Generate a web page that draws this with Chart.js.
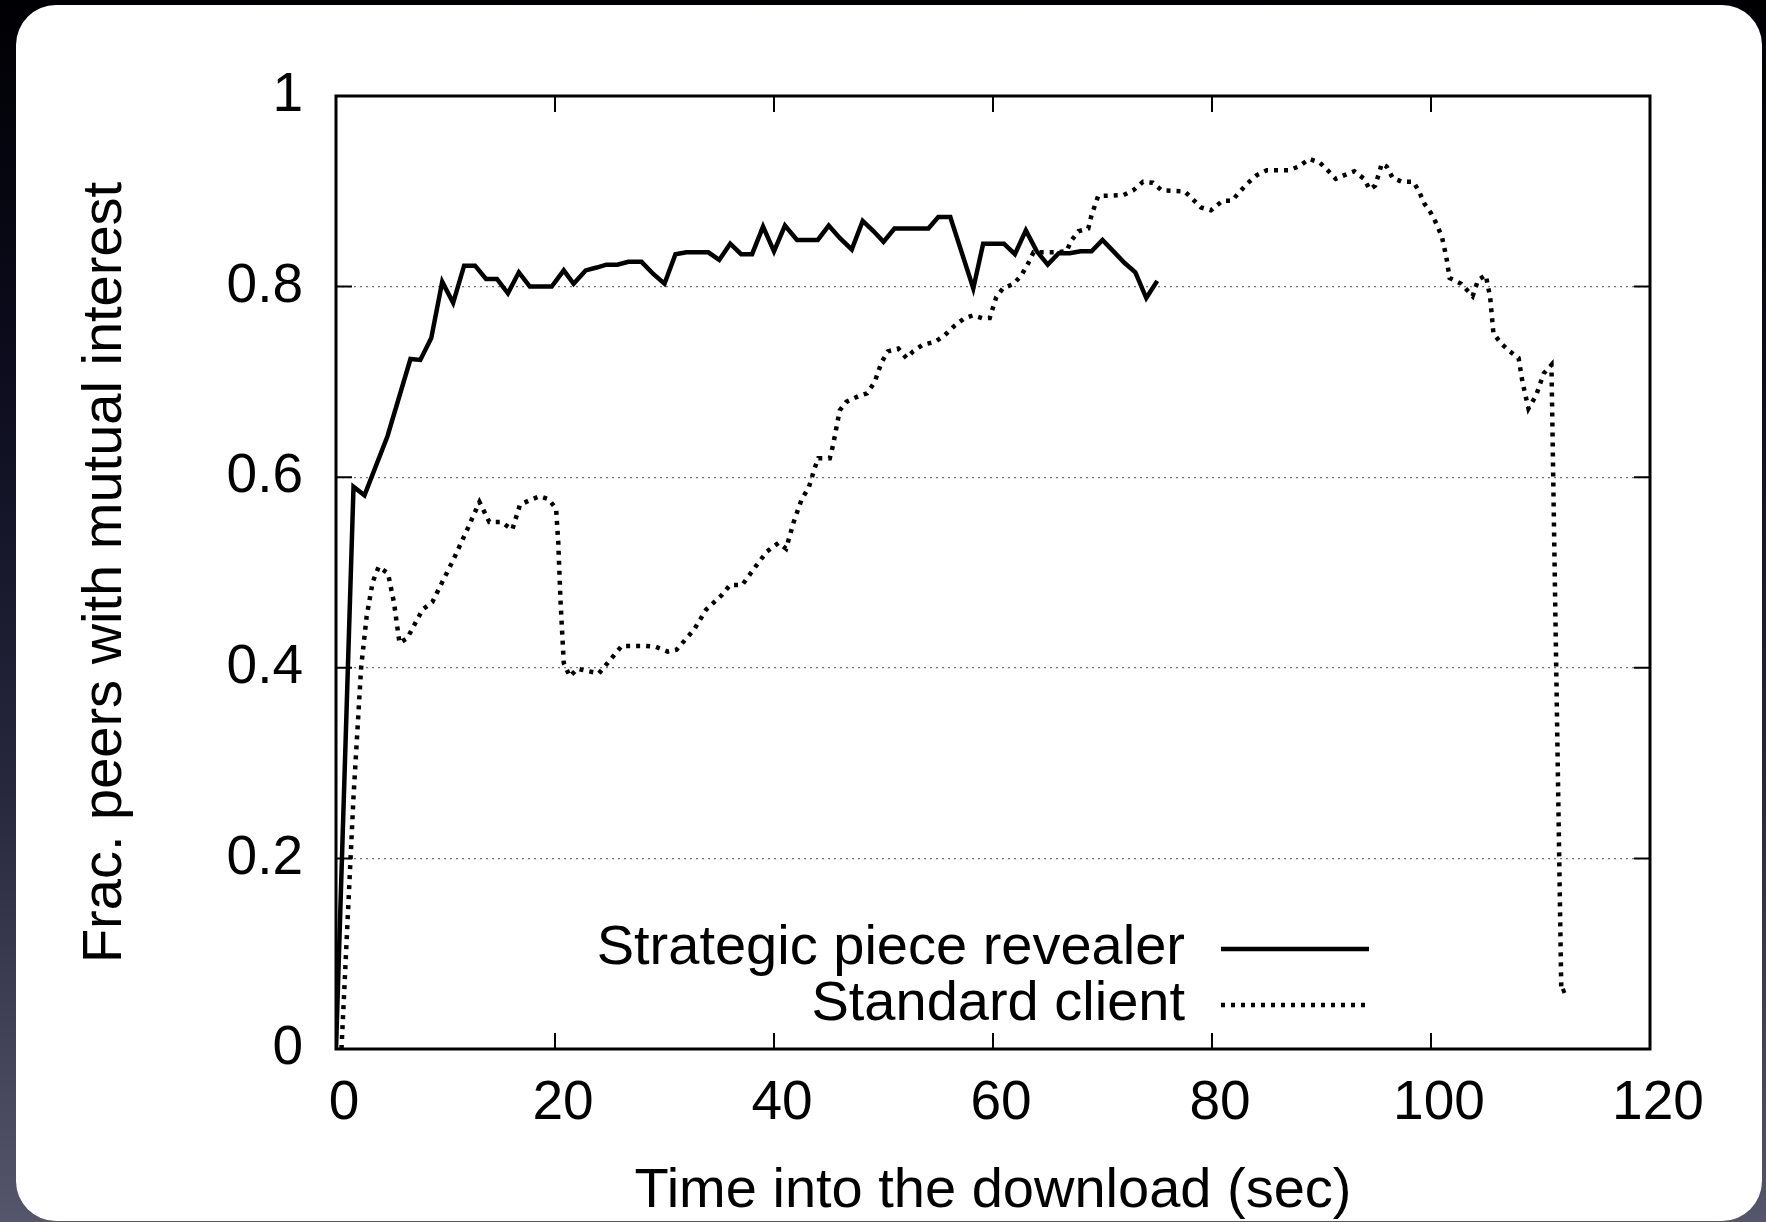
<!DOCTYPE html>
<html lang="en">
<head>
    <meta charset="UTF-8">
    <meta name="viewport" content="width=device-width, initial-scale=1.0">
    <title>Frac. peers with mutual interest</title>
    <script src="https://cdn.jsdelivr.net/npm/chart.js"></script>
    <style>
        html, body {
            margin: 0;
            padding: 0;
        }
        body {
            width: 1766px;
            height: 1222px;
            overflow: hidden;
            position: relative;
            background: linear-gradient(to bottom, #000003 0%, #0c0c1e 30%, #27273e 65%, #55556b 100%);
        }
        /* white slide card behind the plot */
        .card {
            position: absolute;
            left: 16px;
            top: 5px;
            width: 1746px;
            height: 1216px;
            background: #fff;
            border-radius: 40px;
        }
        .chart-box {
            position: absolute;
            left: 0;
            top: 0;
            width: 1766px;
            height: 1222px;
        }
    </style>
</head>
<body>
    <div class="card"></div>
    <div class="chart-box">
        <canvas id="interestChart"></canvas>
    </div>

    <script>
        // series labels
        const seriesNames = ["Strategic piece revealer", "Standard client"];

        // strategic piece revealer (solid line)
        const revealerSec = [0, 1.6, 2.6, 4.7, 6.8, 7.7, 8.7, 9.7, 10.7, 11.7, 12.7, 13.7, 14.7, 15.7, 16.7, 17.7,
            18.7, 19.7, 20.8, 21.7, 22.8, 23.8, 24.7, 25.7, 26.7, 27.9, 29.0, 30.0, 31.0, 32.0, 33.0, 34.0,
            35.0, 36.0, 37.0, 38.0, 39.0, 40.0, 41.0, 42.1, 43.0, 44.0, 45.0, 46.0, 47.1, 48.1, 49.1, 50.0,
            51.0, 52.0, 53.0, 54.1, 55.0, 56.1, 58.2, 59.1, 60.0, 61.0, 62.0, 63.0, 64.0, 65.0, 66.0, 67.0,
            68.0, 69.0, 70.0, 71.0, 72.0, 73.0, 74.0, 75.0];
        const revealerFrac = [0, 0.590, 0.581, 0.643, 0.724, 0.723, 0.746, 0.805, 0.783, 0.822, 0.822, 0.808, 0.808, 0.793, 0.815, 0.800,
            0.800, 0.800, 0.817, 0.803, 0.817, 0.820, 0.823, 0.823, 0.826, 0.826, 0.813, 0.803, 0.834, 0.836, 0.836, 0.836,
            0.828, 0.845, 0.834, 0.834, 0.863, 0.837, 0.864, 0.849, 0.849, 0.849, 0.864, 0.851, 0.839, 0.869, 0.858, 0.847,
            0.861, 0.861, 0.861, 0.861, 0.873, 0.873, 0.798, 0.845, 0.845, 0.845, 0.834, 0.859, 0.837, 0.823, 0.835, 0.835,
            0.837, 0.837, 0.849, 0.837, 0.825, 0.815, 0.788, 0.806];

        // standard client (dotted line)
        const standardSec = [0.5, 1.6, 2.3, 2.8, 3.35, 3.9, 4.75, 5.3, 5.8, 6.5, 7.9, 8.8, 10.7, 12.1, 13.1, 14.0,
            15.1, 16.1, 16.8, 17.7, 18.6, 19.4, 20.1, 20.3, 20.5, 20.8, 21.35, 22.05, 24.0, 24.8, 26.1, 28.3,
            29.2, 30.3, 31.1, 32.7, 33.8, 35.2, 36.0, 37.1, 38.3, 39.35, 40.4, 41.1, 41.8, 42.5, 43.2, 43.7,
            44.05, 45.1, 45.4, 46.0, 46.6, 47.7, 48.5, 49.2, 49.8, 50.4, 51.35, 52.1, 52.7, 53.6, 54.7, 55.6,
            56.4, 57.3, 58.2, 59.0, 59.7, 60.3, 60.9, 61.9, 62.6, 63.2, 63.7, 65.7, 66.7, 67.2, 67.8, 68.7,
            69.0, 69.6, 71.9, 72.8, 73.7, 74.6, 75.4, 77.5, 78.3, 79.0, 79.9, 80.95, 81.8, 83.2, 84.1, 85.0,
            87.05, 87.9, 88.9, 89.85, 90.65, 91.3, 92.1, 93.0, 93.9, 94.4, 94.9, 95.2, 95.5, 95.95, 96.5, 97.35,
            98.4, 98.9, 99.4, 100.0, 100.5, 101.0, 101.4, 101.7, 102.75, 103.8, 104.3, 105.0, 105.4, 105.7, 106.35, 107.2,
            108.0, 108.35, 108.9, 109.6, 110.3, 111.0, 111.9, 112.8];
        const standardFrac = [0, 0.265, 0.401, 0.454, 0.490, 0.506, 0.499, 0.468, 0.426, 0.431, 0.461, 0.469, 0.513, 0.548, 0.574, 0.553,
            0.553, 0.545, 0.571, 0.576, 0.580, 0.577, 0.567, 0.531, 0.471, 0.405, 0.391, 0.399, 0.394, 0.405, 0.423, 0.423,
            0.422, 0.417, 0.419, 0.440, 0.461, 0.476, 0.487, 0.487, 0.506, 0.522, 0.531, 0.525, 0.553, 0.576, 0.590, 0.609,
            0.620, 0.620, 0.634, 0.670, 0.679, 0.685, 0.688, 0.700, 0.720, 0.732, 0.735, 0.725, 0.732, 0.739, 0.742, 0.749,
            0.758, 0.766, 0.770, 0.767, 0.767, 0.789, 0.798, 0.803, 0.812, 0.824, 0.836, 0.836, 0.837, 0.849, 0.858, 0.861,
            0.875, 0.895, 0.896, 0.901, 0.910, 0.909, 0.901, 0.900, 0.891, 0.883, 0.880, 0.890, 0.890, 0.908, 0.917, 0.922,
            0.922, 0.926, 0.934, 0.930, 0.921, 0.913, 0.917, 0.921, 0.913, 0.902, 0.906, 0.917, 0.929, 0.926, 0.914, 0.910,
            0.910, 0.900, 0.887, 0.877, 0.866, 0.852, 0.831, 0.809, 0.803, 0.790, 0.807, 0.812, 0.789, 0.751, 0.741, 0.732,
            0.725, 0.700, 0.672, 0.686, 0.709, 0.718, 0.060, 0.064];

        // axes
        const xRange = [0, 120];
        const xStep = 20;
        const yRange = [0, 1];
        const yStep = 0.2;

        const FONT = "'Liberation Sans', Arial, Helvetica, sans-serif";

        function toPoints(xs, ys) {
            return xs.map((x, i) => ({ x: x, y: ys[i] }));
        }

        // gnuplot style box: full frame + inward ticks on all four sides
        const frameTicks = {
            id: "frameTicks",
            afterDatasetsDraw(chart, args, opts) {
                const { ctx, chartArea: a, scales } = chart;
                const len = opts.length;
                ctx.save();
                ctx.strokeStyle = "#000";
                ctx.lineWidth = 2;
                ctx.setLineDash([]);
                ctx.beginPath();
                scales.x.ticks.forEach(t => {
                    const px = scales.x.getPixelForValue(t.value);
                    ctx.moveTo(px, a.bottom); ctx.lineTo(px, a.bottom - len);
                    ctx.moveTo(px, a.top); ctx.lineTo(px, a.top + len);
                });
                scales.y.ticks.forEach(t => {
                    const py = scales.y.getPixelForValue(t.value);
                    ctx.moveTo(a.left, py); ctx.lineTo(a.left + len, py);
                    ctx.moveTo(a.right, py); ctx.lineTo(a.right - len, py);
                });
                ctx.stroke();
                ctx.lineWidth = 3;
                ctx.strokeRect(a.left, a.top, a.right - a.left, a.bottom - a.top);
                ctx.restore();
            }
        };

        // key drawn inside the plot, text right aligned before the line sample
        const insideKey = {
            id: "insideKey",
            afterDraw(chart, args, opts) {
                const { ctx, chartArea: a } = chart;
                ctx.save();
                ctx.font = "56px " + FONT;
                ctx.textAlign = "right";
                ctx.textBaseline = "middle";
                ctx.fillStyle = "#000";
                chart.data.datasets.forEach((ds, i) => {
                    const y = a.bottom - opts.firstRow + i * opts.rowGap;
                    ctx.fillText(ds.label, a.left + opts.textRight, y);
                    ctx.beginPath();
                    ctx.setLineDash(ds.borderDash || []);
                    ctx.lineWidth = ds.borderWidth;
                    ctx.strokeStyle = ds.borderColor;
                    ctx.moveTo(a.left + opts.sampleLeft, y);
                    ctx.lineTo(a.left + opts.sampleRight, y);
                    ctx.stroke();
                });
                ctx.restore();
            }
        };

        const ctx = document.getElementById("interestChart").getContext("2d");
        new Chart(ctx, {
            type: "line",
            data: {
                datasets: [{
                    label: seriesNames[0],
                    data: toPoints(revealerSec, revealerFrac),
                    borderColor: "#000",
                    borderWidth: 4.5,
                    pointRadius: 0,
                    tension: 0,
                    fill: false
                }, {
                    label: seriesNames[1],
                    data: toPoints(standardSec, standardFrac),
                    borderColor: "#000",
                    borderWidth: 4.5,
                    borderDash: [4, 6],
                    pointRadius: 0,
                    tension: 0,
                    fill: false
                }]
            },
            options: {
                responsive: true,
                maintainAspectRatio: false,
                animation: false,
                layout: { padding: { top: 96, right: 116, bottom: 0, left: 0 } },
                plugins: {
                    legend: { display: false },
                    tooltip: { enabled: false },
                    frameTicks: { length: 16 },
                    insideKey: { firstRow: 100, rowGap: 56, textRight: 849, sampleLeft: 885, sampleRight: 1033 }
                },
                scales: {
                    x: {
                        type: "linear",
                        min: xRange[0],
                        max: xRange[1],
                        afterFit: s => { s.height = 173; },
                        grid: { display: false, drawTicks: false },
                        border: { display: false },
                        ticks: {
                            stepSize: xStep,
                            color: "#000",
                            padding: 27,
                            labelOffset: 8,
                            maxRotation: 0,
                            font: { family: FONT, size: 55, lineHeight: 1 }
                        },
                        title: {
                            display: true,
                            text: "Time into the download (sec)",
                            color: "#000",
                            padding: { top: 0, bottom: 2 },
                            font: { family: FONT, size: 56, lineHeight: 1 }
                        }
                    },
                    y: {
                        min: yRange[0],
                        max: yRange[1],
                        afterFit: s => { s.width = 336; },
                        grid: { color: "rgba(0,0,0,0.55)", lineWidth: 1.2, drawTicks: false },
                        border: { display: false, dash: [2, 4] },
                        ticks: {
                            stepSize: yStep,
                            color: "#000",
                            padding: 33,
                            callback: v => String(Number(v.toFixed(1))),
                            font: { family: FONT, size: 55, lineHeight: 1 }
                        },
                        title: {
                            display: true,
                            text: "Frac. peers with mutual interest",
                            color: "#000",
                            padding: { top: 78, bottom: 0 },
                            font: { family: FONT, size: 56, lineHeight: 1 }
                        }
                    }
                }
            },
            plugins: [frameTicks, insideKey]
        });
    </script>
</body>
</html>
